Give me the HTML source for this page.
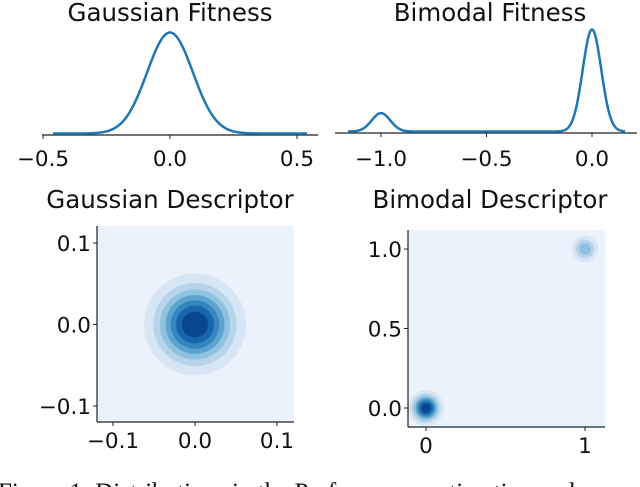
<!DOCTYPE html>
<html><head><meta charset="utf-8"><style>
html,body{margin:0;padding:0;background:#fff;width:640px;height:487px;overflow:hidden}
svg{display:block}
text{font-family:"DejaVu Sans","Liberation Sans",sans-serif;fill:#111}
</style></head><body>
<svg id="fig" width="640" height="487" viewBox="0 0 640 487" xmlns="http://www.w3.org/2000/svg"></svg>
<script>
// Gaussian fitness KDE
const gfTicks = [-0.5, 0.0, 0.5];
const gfTickLabels = ["\u22120.5", "0.0", "0.5"];
const gfMeans = [0.0];
const gfSigmas = [0.09];
const gfHeights = [1.0];
// Bimodal fitness KDE
const bfTicks = [-1.0, -0.5, 0.0];
const bfTickLabels = ["\u22121.0", "\u22120.5", "0.0"];
const bfMeans = [-1.0, 0.0];
const bfSigmas = [0.044, 0.044];
const bfHeights = [0.18, 1.0];
// Gaussian descriptor contours
const gdTicks = [-0.1, 0.0, 0.1];
const gdTickLabels = ["\u22120.1", "0.0", "0.1"];
const gdCenters = [[0.0, 0.0]];
const gdSigma = [0.0305];
const gdWeights = [1.0];
// Bimodal descriptor contours
const bdXTicks = [0, 1];
const bdXTickLabels = ["0", "1"];
const bdYTicks = [0.0, 0.5, 1.0];
const bdYTickLabels = ["0.0", "0.5", "1.0"];
const bdCenters = [[0, 0], [1, 1]];
const bdSigma = [0.055, 0.05];
const bdWeights = [1.0, 0.5];
const levelColors = ["#eaf2fb","#d6e6f4","#b7d4ea","#8fc2de","#5da3d0","#3585bf","#1865ac","#08468e"];

const svg = document.getElementById('fig');
const NS = "http://www.w3.org/2000/svg";
function mk(tag, attrs, parent){const e=document.createElementNS(NS,tag);for(const k in attrs)e.setAttribute(k,attrs[k]);(parent||svg).appendChild(e);return e;}
function txt(s,x,y,size,anchor){const t=mk('text',{x:x,y:y,'font-size':size,'text-anchor':anchor||'middle'});t.textContent=s;return t;}

function lin(d0,d1,r0,r1){return v=>r0+(v-d0)/(d1-d0)*(r1-r0);}

function kde(name, title, titleX, xDom, xRange, baseY, peakH, axisX0, axisX1, ticks, labels, means, sigmas, heights, drawX0, drawX1){
  const g=mk('g',{});
  
  
  const t=txt(title,titleX,21,24.5);
  
  
  const sx=lin(xDom[0],xDom[1],xRange[0],xRange[1]);
  const ax=mk('line',{x1:axisX0,x2:axisX1,y1:baseY,y2:baseY,stroke:'#222','stroke-width':1.2},g);
  
  
  ticks.forEach((v,i)=>{
    mk('line',{x1:sx(v),x2:sx(v),y1:baseY,y2:baseY+4,stroke:'#222','stroke-width':1},g);
    const l=txt(labels[i],sx(v),166,21.5);
    
    
  });
  let d='';
  const maxH=Math.max(...heights);
  for(let px=drawX0;px<=drawX1;px+=0.5){
    const x=xDom[0]+(px-xRange[0])/(xRange[1]-xRange[0])*(xDom[1]-xDom[0]);
    let y=0;
    means.forEach((m,i)=>{y+=heights[i]*Math.exp(-0.5*((x-m)/sigmas[i])**2);});
    d+=(d?'L':'M')+px.toFixed(1)+','+(baseY-1.5-y/maxH*peakH).toFixed(2);
  }
  const p=mk('path',{d:d,fill:'none',stroke:'#1f77b4','stroke-width':2.5,'stroke-linejoin':'round'},g);
  
  
}
kde('gaussian-fitness','Gaussian Fitness',170,[-0.5,0.5],[43,297],135,101,42,318,gfTicks,gfTickLabels,gfMeans,gfSigmas,gfHeights,53,307);
kde('bimodal-fitness','Bimodal Fitness',490,[-1,0],[381,592],133,102,335,637,bfTicks,bfTickLabels,bfMeans,bfSigmas,bfHeights,348,625);

function contour(name,title,titleX,box,sx,sy,xt,xl,yt,yl,centers,sig,w){
  const g=mk('g',{});
  
  
  const t=txt(title,titleX,208,24.5);
  
  
  const clipId=name+'-clip';
  const cp=mk('clipPath',{id:clipId},g);
  mk('rect',{x:box[0],y:box[1],width:box[2]-box[0],height:box[3]-box[1]},cp);
  mk('rect',{x:box[0],y:box[1],width:box[2]-box[0],height:box[3]-box[1],fill:levelColors[0]},g);
  const cg=mk('g',{'clip-path':'url(#'+clipId+')'},g);
  const wMax=Math.max(...w);
  const nL=levelColors.length;
  centers.forEach((c,i)=>{
    const pxPerUnit=Math.abs(sx(1)-sx(0));
    for(let k=1;k<nL;k++){
      const level=k/nL;
      const rel=level/(w[i]/wMax);
      if(rel>=1) continue;
      const r=sig[i]*Math.sqrt(-2*Math.log(rel))*pxPerUnit;
      const circ=mk('circle',{cx:sx(c[0]),cy:sy(c[1]),r:r.toFixed(2),fill:levelColors[k]},cg);
      
      
    }
  });
  mk('line',{x1:box[0],x2:box[0],y1:box[1],y2:box[3],stroke:'#222','stroke-width':1.2},g);
  mk('line',{x1:box[0],x2:box[2],y1:box[3],y2:box[3],stroke:'#222','stroke-width':1.2},g);
  xt.forEach((v,i)=>{
    mk('line',{x1:sx(v),x2:sx(v),y1:box[3],y2:box[3]+4,stroke:'#222'},g);
    const l=txt(xl[i],sx(v),box[3]+26,21.5);
    
    
  });
  yt.forEach((v,i)=>{
    mk('line',{x1:box[0],x2:box[0]-4,y1:sy(v),y2:sy(v),stroke:'#222'},g);
    const l=txt(yl[i],box[0]-6,sy(v)+8,21.5,'end');
    
    
  });
}
contour('gaussian-descriptor','Gaussian Descriptor',170,[97,226,294,422],
  lin(-0.1,0.1,113,277),lin(-0.1,0.1,406,243),gdTicks,gdTickLabels,gdTicks,gdTickLabels,gdCenters,gdSigma,gdWeights);
contour('bimodal-descriptor','Bimodal Descriptor',490,[408,230,605,427],
  lin(0,1,426,585),lin(0,1,408,249),bdXTicks,bdXTickLabels,bdYTicks,bdYTickLabels,bdCenters,bdSigma,bdWeights);

const cap=mk('text',{x:-2,y:500,'font-size':25,'text-anchor':'start',style:'font-family:"Liberation Serif",serif'});
cap.textContent='Figure 1: Distributions in the Performance estimation and';


</script>
</body></html>
